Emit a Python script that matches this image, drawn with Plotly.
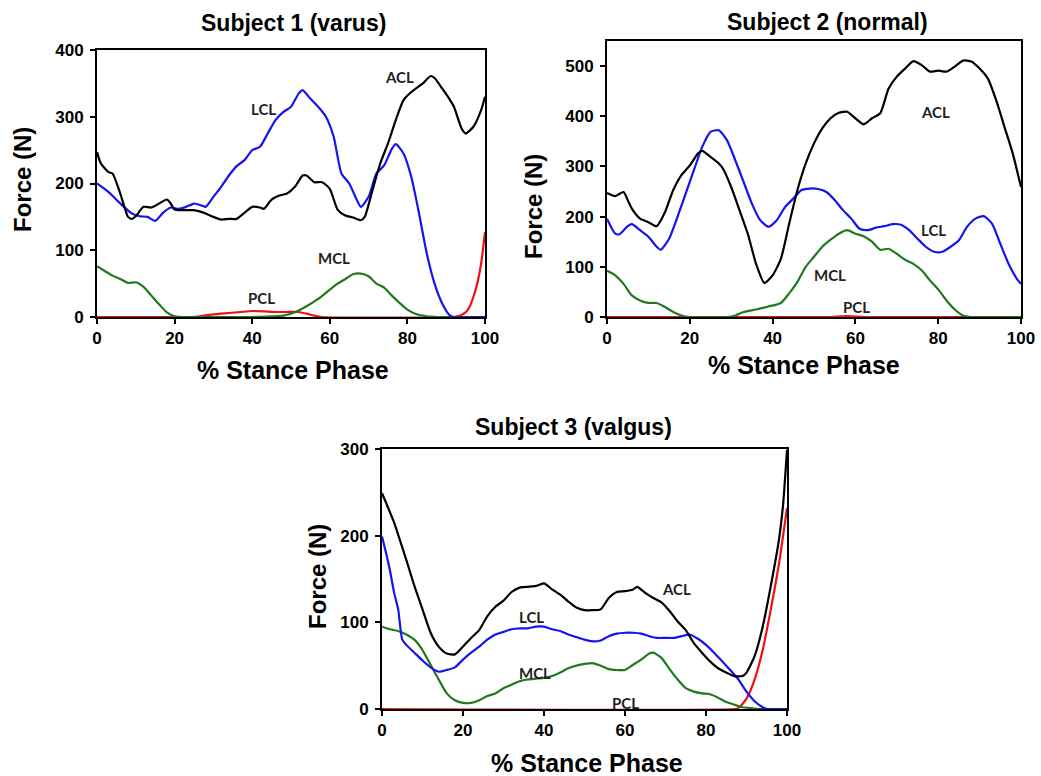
import plotly.graph_objects as go

# ---------------- Subject 1 (varus) ----------------
s1_acl_x = [0, 1, 3, 4, 6, 8, 9, 10, 12, 14, 16, 18, 19, 20, 22, 25, 28, 30, 32, 34, 36, 38, 40, 42, 43, 45, 47, 49, 51, 53, 54, 56, 58, 60, 62, 64, 66, 68, 69, 71, 73, 75, 77, 79, 81, 83, 84, 86, 87, 89, 91, 92, 94, 95, 97, 99, 100]
s1_acl_y = [247, 230, 217, 215, 185, 150, 147, 151, 165, 164, 170, 176, 170, 161, 160, 160, 155, 150, 146, 147, 147, 156, 165, 164, 162, 176, 182, 185, 195, 212, 212, 202, 202, 192, 161, 152, 149, 145, 150, 190, 230, 260, 295, 325, 337, 346, 350, 361, 358, 342, 325, 315, 282, 275, 285, 310, 330]

s1_lcl_x = [0, 3, 6, 9, 11, 13, 15, 17, 19, 21, 23, 25, 27, 28, 30, 32, 34, 36, 38, 40, 42, 44, 46, 48, 50, 52, 53, 55, 57, 59, 61, 63, 65, 67, 68, 70, 72, 74, 76, 77, 79, 81, 83, 85, 87, 89, 91, 92, 100]
s1_lcl_y = [200, 187, 170, 155, 151, 150, 144, 156, 164, 162, 165, 170, 167, 165, 180, 195, 212, 226, 235, 250, 255, 275, 295, 307, 315, 335, 340, 327, 315, 300, 270, 215, 200, 175, 165, 180, 215, 227, 252, 259, 245, 210, 155, 95, 50, 20, 2, 0, 0]

s1_mcl_x = [0, 2, 4, 6, 8, 10, 12, 14, 16, 18, 20, 22, 30, 40, 45, 48, 51, 54, 57, 60, 62, 64, 66, 68, 70, 72, 74, 76, 78, 80, 82, 85, 88, 100]
s1_mcl_y = [76, 69, 62, 57, 51, 52, 45, 32, 19, 7, 1, 0, 0, 0, 1, 2, 7, 16, 27, 41, 50, 57, 64, 65, 61, 50, 44, 32, 21, 11, 5, 1, 0, 0]

s1_pcl_x = [0, 24, 27, 30, 34, 37, 40, 43, 46, 49, 52, 54, 56, 58, 92, 93, 95, 96, 97, 98, 99, 100]
s1_pcl_y = [0, 0, 1.5, 4, 6, 7.5, 9, 8.5, 7.5, 7.5, 7.5, 5, 2, 0, 0, 1, 7, 15, 30, 50, 80, 127]

# ---------------- Subject 2 (normal) ----------------
s2_acl_x = [0, 2, 4, 5, 6, 8, 10, 12, 14, 16, 18, 20, 22, 23, 25, 27, 28, 30, 32, 34, 36, 38, 40, 42, 44, 46, 48, 50, 52, 54, 56, 58, 60, 62, 64, 66, 68, 70, 72, 74, 76, 78, 80, 82, 84, 86, 88, 90, 92, 94, 96, 98, 100]
s2_acl_y = [247, 241, 249, 233, 216, 196, 189, 181, 209, 253, 283, 302, 326, 331, 319, 306, 296, 259, 213, 166, 106, 68, 83, 116, 186, 253, 306, 346, 376, 396, 407, 409, 396, 384, 396, 406, 455, 479, 495, 510, 502, 489, 491, 489, 499, 511, 509, 495, 475, 432, 379, 326, 259]

s2_lcl_x = [0, 2, 3, 5, 6, 8, 10, 12, 13, 15, 17, 19, 21, 23, 25, 27, 29, 31, 33, 35, 37, 39, 41, 43, 45, 47, 49, 51, 53, 55, 57, 59, 61, 63, 65, 67, 69, 71, 73, 75, 77, 79, 81, 83, 85, 87, 89, 91, 93, 95, 97, 99, 100]
s2_lcl_y = [196, 166, 165, 181, 185, 173, 160, 140, 134, 156, 199, 246, 293, 339, 369, 372, 352, 312, 269, 226, 193, 180, 193, 219, 236, 253, 256, 255, 249, 233, 213, 196, 176, 173, 178, 181, 185, 184, 173, 156, 140, 130, 130, 140, 153, 180, 196, 201, 186, 146, 106, 76, 66]

s2_mcl_x = [0, 2, 4, 6, 8, 10, 12, 14, 16, 18, 20, 29, 31, 33, 36, 39, 42, 44, 46, 48, 50, 52, 54, 56, 58, 60, 62, 64, 66, 68, 70, 72, 74, 76, 78, 80, 82, 84, 86, 88, 100]
s2_mcl_y = [92, 83, 66, 43, 33, 28, 28, 20, 10, 3, 0, 0, 3, 10, 15, 21, 28, 47, 70, 100, 120, 140, 154, 166, 173, 166, 161, 150, 134, 136, 126, 114, 106, 93, 73, 55, 33, 15, 3, 0, 0]

s2_pcl_x = [0, 54, 56, 58, 60, 62, 100]
s2_pcl_y = [0, 0, 1, 2, 1, 0, 0]

# ---------------- Subject 3 (valgus) ----------------
s3_acl_x = [0, 1, 3, 4, 6, 8, 10, 12, 14, 16, 18, 20, 22, 24, 26, 28, 30, 32, 34, 36, 38, 40, 42, 44, 46, 48, 50, 52, 54, 56, 58, 60, 62, 63, 65, 67, 69, 71, 73, 75, 77, 79, 81, 83, 85, 87, 89, 90, 92, 94, 96, 98, 99, 100]
s3_acl_y = [249, 238, 215, 201, 172, 142, 115, 88, 72, 64, 63, 72, 82, 91, 107, 118, 125, 135, 140, 141, 142, 145, 138, 132, 124, 117, 114, 114, 115, 128, 135, 136, 138, 141, 134, 128, 123, 113, 101, 91, 76, 65, 55, 47, 42, 38, 38, 42, 61, 95, 142, 195, 234, 299]

s3_lcl_x = [0, 1, 2, 3, 4, 5, 6, 8, 10, 12, 14, 16, 18, 20, 22, 24, 26, 28, 30, 32, 34, 36, 38, 40, 42, 44, 46, 48, 50, 52, 54, 56, 58, 60, 62, 64, 66, 68, 70, 72, 74, 76, 78, 80, 82, 84, 86, 88, 90, 92, 94, 95, 100]
s3_lcl_y = [199, 180, 159, 134, 115, 80, 74, 65, 56, 48, 43, 45, 48, 57, 65, 72, 80, 86, 89, 92, 93, 93, 95, 95, 92, 90, 86, 83, 80, 78, 79, 84, 87, 88, 88, 87, 84, 82, 82, 82, 84, 86, 81, 74, 65, 55, 45, 34, 20, 9, 2, 0, 0]

s3_mcl_x = [0, 2, 4, 6, 8, 10, 12, 14, 16, 18, 20, 22, 24, 26, 28, 30, 32, 34, 36, 38, 40, 42, 44, 46, 48, 50, 52, 54, 56, 58, 60, 62, 64, 66, 67, 69, 71, 73, 75, 77, 79, 81, 83, 85, 87, 89, 91, 93, 100]
s3_mcl_y = [95, 92, 90, 86, 80, 68, 51, 34, 18, 10, 7, 7, 10, 15, 18, 24, 28, 32, 34, 35, 36, 38, 42, 47, 50, 52, 53, 50, 46, 45, 45, 51, 57, 64, 65, 59, 46, 34, 24, 20, 18, 17, 13, 8, 5, 2, 1, 0, 0]

s3_pcl_x = [0, 87, 88, 90, 92, 94, 96, 98, 100]
s3_pcl_y = [0, 0, 1, 12, 34, 68, 115, 167, 232]

# ---------------- labels ----------------
titles = ["Subject 1 (varus)", "Subject 2 (normal)", "Subject 3 (valgus)"]
x_title = "% Stance Phase"
y_title = "Force (N)"
x_ticks = [0, 20, 40, 60, 80, 100]
y_ticks = [[0, 100, 200, 300, 400], [0, 100, 200, 300, 400, 500], [0, 100, 200, 300]]
y_ranges = [[0, 400], [0, 550], [0, 300]]

lig_names = ["ACL", "LCL", "MCL", "PCL"]
s1_label_x = [78, 43, 61, 42.5]
s1_label_y = [360, 311, 88, 28]
s2_label_x = [79.4, 78.8, 53.8, 60.3]
s2_label_y = [409, 173, 83, 20]
s3_label_x = [72.8, 36.8, 37.8, 60]
s3_label_y = [138, 106, 41.5, 7]

colors = {"ACL": "#000000", "LCL": "#1414f0", "MCL": "#1f7a1f", "PCL": "#f01010"}

W, H = 1041, 776
# panel pixel boxes: left, right, top, bottom
boxes = [(97, 485, 50, 317), (607, 1021, 41, 317), (382, 787, 449, 709)]
title_pos = [(293, 23), (827, 22), (573, 427)]
xtitle_pos = [(293, 370), (804, 365), (587, 763)]
ytitle_pos = [(22, 180), (534, 207), (317, 577)]

panels = [
    dict(acl=(s1_acl_x, s1_acl_y), lcl=(s1_lcl_x, s1_lcl_y), mcl=(s1_mcl_x, s1_mcl_y), pcl=(s1_pcl_x, s1_pcl_y),
         lx=s1_label_x, ly=s1_label_y),
    dict(acl=(s2_acl_x, s2_acl_y), lcl=(s2_lcl_x, s2_lcl_y), mcl=(s2_mcl_x, s2_mcl_y), pcl=(s2_pcl_x, s2_pcl_y),
         lx=s2_label_x, ly=s2_label_y),
    dict(acl=(s3_acl_x, s3_acl_y), lcl=(s3_lcl_x, s3_lcl_y), mcl=(s3_mcl_x, s3_mcl_y), pcl=(s3_pcl_x, s3_pcl_y),
         lx=s3_label_x, ly=s3_label_y),
]

FONT = "Liberation Sans, Arial, sans-serif"
fig = go.Figure()
annotations = []

for i, p in enumerate(panels):
    n = "" if i == 0 else str(i + 1)
    xa, ya = "x" + n, "y" + n
    for key, name in [("pcl", "PCL"), ("mcl", "MCL"), ("lcl", "LCL"), ("acl", "ACL")]:
        xs, ys = p[key]
        fig.add_trace(go.Scatter(x=xs, y=ys, mode="lines", name=name, showlegend=False,
                                 line=dict(color=colors[name], width=2.2, shape="spline", smoothing=0.6),
                                 xaxis=xa, yaxis=ya, hoverinfo="skip"))
    l, r, t, b = boxes[i]
    common = dict(showline=True, mirror=True, linecolor="black", linewidth=2, ticks="outside",
                  ticklen=5, tickwidth=1.5, tickcolor="black", showgrid=False, zeroline=False,
                  tickfont=dict(family=FONT, size=17, color="black", weight="bold"),
                  layer="below traces", automargin=False)
    fig.layout["xaxis" + n] = dict(domain=[l / W, r / W], range=[0, 100], tickvals=x_ticks,
                                   anchor=ya, **common)
    fig.layout["yaxis" + n] = dict(domain=[1 - b / H, 1 - t / H], range=y_ranges[i], tickvals=y_ticks[i],
                                   anchor=xa, ticklabelstandoff=3, **common)
    for j, name in enumerate(lig_names):
        annotations.append(dict(x=p["lx"][j], y=p["ly"][j], xref=xa, yref=ya, text="<b>" + name + "</b>",
                                showarrow=False, font=dict(family="Lato, Carlito, sans-serif", size=15, color="#222222"),
                                xanchor="center", yanchor="middle"))
    tx, ty = title_pos[i]
    annotations.append(dict(x=tx / W, y=1 - ty / H, xref="paper", yref="paper", text="<b>" + titles[i] + "</b>",
                            showarrow=False, font=dict(family=FONT, size=23, color="black"),
                            xanchor="center", yanchor="middle"))
    tx, ty = xtitle_pos[i]
    annotations.append(dict(x=tx / W, y=1 - ty / H, xref="paper", yref="paper", text="<b>" + x_title + "</b>",
                            showarrow=False, font=dict(family=FONT, size=25, color="black"),
                            xanchor="center", yanchor="middle"))
    tx, ty = ytitle_pos[i]
    annotations.append(dict(x=tx / W, y=1 - ty / H, xref="paper", yref="paper", text="<b>" + y_title + "</b>",
                            showarrow=False, textangle=-90,
                            font=dict(family=FONT, size=24, color="black"),
                            xanchor="center", yanchor="middle"))

fig.update_layout(width=W, height=H, margin=dict(l=0, r=0, t=0, b=0, autoexpand=False),
                  paper_bgcolor="white", plot_bgcolor="white", annotations=annotations,
                  showlegend=False)

fig.write_html("out.html", config={"displayModeBar": False})

# remove default page margins so the figure fills the window exactly
with open("out.html", "r", encoding="utf-8") as f:
    html = f.read()
html = html.replace("<head>", "<head><style>html,body{margin:0;padding:0;overflow:hidden;}</style>", 1)
with open("out.html", "w", encoding="utf-8") as f:
    f.write(html)
